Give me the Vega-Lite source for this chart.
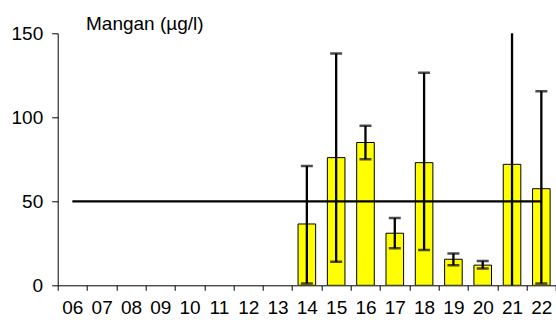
{
  "$schema": "https://vega.github.io/schema/vega-lite/v6.json",
  "autosize": {"type": "none"},
  "padding": {"left": 57.7, "top": 33.3, "right": 0, "bottom": 34.7},
  "width": 498.3,
  "height": 252,
  "background": "white",
  "config": {
    "view": {"stroke": null},
    "font": "Liberation Sans",
    "axis": {"grid": false, "domainColor": "#000", "tickColor": "#000", "labelColor": "#000", "labelFont": "Liberation Sans", "labelFontSize": 19, "title": null, "domainWidth": 1, "tickWidth": 1}
  },
  "title": {"text": "Mangan (µg/l)", "anchor": "start", "frame": "group", "dx": 28.3, "dy": 27.5, "offset": 3, "baseline": "alphabetic", "fontSize": 19, "fontWeight": "normal", "font": "Liberation Sans", "color": "#000"},
  "data": {"values": [
    {"cat": "06", "limit": 50},
    {"cat": "07", "limit": 50},
    {"cat": "08", "limit": 50},
    {"cat": "09", "limit": 50},
    {"cat": "10", "limit": 50},
    {"cat": "11", "limit": 50},
    {"cat": "12", "limit": 50},
    {"cat": "13", "limit": 50},
    {"cat": "14", "limit": 50, "value": 36.5, "lo": 1, "hi": 71},
    {"cat": "15", "limit": 50, "value": 76, "lo": 14, "hi": 138},
    {"cat": "16", "limit": 50, "value": 85, "lo": 75, "hi": 95},
    {"cat": "17", "limit": 50, "value": 31, "lo": 22, "hi": 40},
    {"cat": "18", "limit": 50, "value": 73, "lo": 21, "hi": 126.5},
    {"cat": "19", "limit": 50, "value": 15.5, "lo": 12, "hi": 19},
    {"cat": "20", "limit": 50, "value": 12, "lo": 10, "hi": 14.5},
    {"cat": "21", "limit": 50, "value": 72, "lo": -10, "hi": 170},
    {"cat": "22", "limit": 50, "value": 57.5, "lo": 1, "hi": 115.5}
  ]},
  "encoding": {
    "x": {"field": "cat", "type": "nominal", "sort": null,
      "scale": {"domain": ["06","07","08","09","10","11","12","13","14","15","16","17","18","19","20","21","22"], "paddingInner": 0, "paddingOuter": 0},
      "axis": {"labelAngle": 0, "tickBand": "extent", "tickSize": 5, "labelPadding": 8, "labelBaseline": "top"}}
  },
  "layer": [
    {
      "mark": {"type": "bar", "color": "#FFFF00", "stroke": "#000", "strokeWidth": 1, "width": {"band": 0.6}, "clip": true},
      "encoding": {
        "y": {"field": "value", "type": "quantitative", "scale": {"domain": [0, 150], "nice": false, "zero": true},
          "axis": {"values": [0, 50, 100, 150], "tickSize": 6, "labelPadding": 9}}
      }
    },
    {
      "mark": {"type": "line", "color": "#000", "strokeWidth": 2.3, "clip": true},
      "encoding": {"y": {"field": "limit", "type": "quantitative"}}
    },
    {
      "mark": {"type": "rule", "color": "#000", "strokeWidth": 2.3, "clip": true},
      "encoding": {"y": {"field": "lo", "type": "quantitative"}, "y2": {"field": "hi"}}
    },
    {
      "mark": {"type": "tick", "color": "#000", "thickness": 2.5, "size": 12, "clip": true, "orient": "horizontal"},
      "encoding": {"y": {"field": "lo", "type": "quantitative"}}
    },
    {
      "mark": {"type": "tick", "color": "#000", "thickness": 2.5, "size": 12, "clip": true, "orient": "horizontal"},
      "encoding": {"y": {"field": "hi", "type": "quantitative"}}
    }
  ]
}
